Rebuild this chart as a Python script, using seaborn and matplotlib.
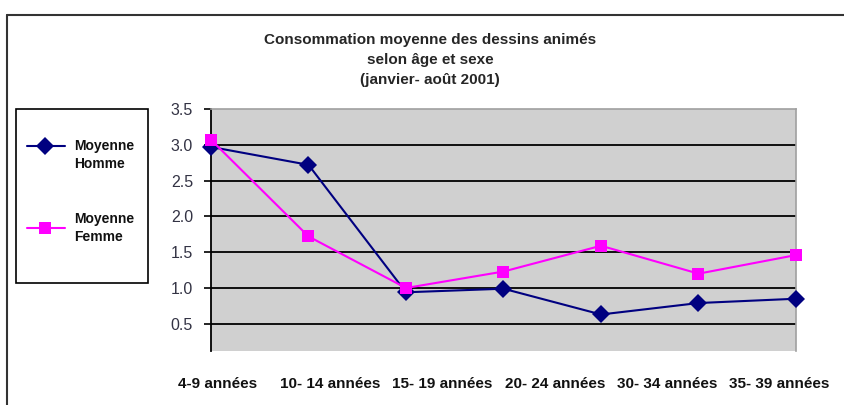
import numpy as np
import pandas as pd
import seaborn as sns
import matplotlib
matplotlib.use("Agg")
import matplotlib.pyplot as plt
from matplotlib.lines import Line2D
from matplotlib.patches import Rectangle

# ---- data ----
age_labels = ["4-9 années", "10- 14 années", "15- 19 années", "20- 24 années",
              "30- 34 années", "35- 39 années"]
point_index = [0, 1, 2, 3, 4, 5, 6]
homme = [2.97, 2.72, 0.94, 0.99, 0.63, 0.79, 0.85]
femme = [3.07, 1.72, 1.00, 1.23, 1.59, 1.20, 1.46]
series_names = ["Moyenne\nHomme", "Moyenne\nFemme"]
y_ticks = [0.5, 1.0, 1.5, 2.0, 2.5, 3.0, 3.5]
title = "Consommation moyenne des dessins animés\nselon âge et sexe\n(janvier- août 2001)"

df = pd.DataFrame({
    "x": point_index * 2,
    "val": homme + femme,
    "serie": [series_names[0]] * len(homme) + [series_names[1]] * len(femme),
})

sns.set_style("white")
plt.rcParams["font.family"] = ["Liberation Sans", "DejaVu Sans"]

W, H = 845, 405
fig = plt.figure(figsize=(8.45, 4.05), dpi=100)
ax = fig.add_axes([211 / W, 1 - 351 / H, (796 - 211) / W, (351 - 109) / H])
ax.set_facecolor("#d0d0d0")

colors = {series_names[0]: "#000080", series_names[1]: "#ff00ff"}
markers = {series_names[0]: "D", series_names[1]: "s"}
sns.lineplot(data=df, x="x", y="val", hue="serie", style="serie",
             palette=colors, markers=markers, dashes=False, markersize=9,
             markeredgewidth=0, linewidth=1.5, ax=ax, legend=False, zorder=3)
for ln in ax.lines:
    ln.set_clip_on(False)

ax.set_xlim(0, 6)
ax.set_ylim(0.12, 3.5)
ax.set_yticks(y_ticks)
ax.set_yticklabels([f"{v:.1f}" for v in y_ticks], fontsize=11.5, color="#333344")
ax.set_xticks(np.linspace(0.072, 5.83, len(age_labels)))
ax.set_xticklabels(age_labels, fontsize=11, fontweight="bold", color="#111111")
ax.tick_params(axis="x", length=0, pad=19)
ax.tick_params(axis="y", left=True, length=5, width=1.2, color="black", pad=8)
ax.set_xlabel("")
ax.set_ylabel("")
for v in y_ticks[:-1]:
    ax.axhline(v, color="black", linewidth=1.3, zorder=1)
for s in ["top", "right"]:
    ax.spines[s].set_color("#a0a0a0")
    ax.spines[s].set_linewidth(1.2)
ax.spines["bottom"].set_visible(False)
ax.spines["left"].set_color("black")
ax.spines["left"].set_linewidth(1.3)

fig.text(430 / W, 1 - 60 / H, title, ha="center", va="center",
         fontsize=11, fontweight="bold", linespacing=1.55)

# outer frame
fig.add_artist(Line2D([7 / W, 1], [1 - 15 / H, 1 - 15 / H], color="#333333", linewidth=1.5))
fig.add_artist(Line2D([7 / W, 7 / W], [0, 1 - 15 / H], color="#333333", linewidth=1.5))

# legend box
fig.add_artist(Rectangle((16 / W, 1 - 283 / H), (148 - 16) / W, (283 - 109) / H,
                         transform=fig.transFigure, fill=False, edgecolor="black", linewidth=1.2))
legend_rows = [(146, 155), (228, 228)]  # marker y, text center y
for name, (my, ty) in zip(series_names, legend_rows):
    fig.add_artist(Line2D([27 / W, 65 / W], [1 - my / H] * 2, color=colors[name], linewidth=1.5))
    fig.add_artist(Line2D([45 / W], [1 - my / H], color=colors[name], marker=markers[name],
                          markersize=9, markeredgewidth=0, linestyle="none"))
    fig.text(74 / W, 1 - ty / H, name, ha="left", va="center", fontsize=10,
             fontweight="bold", color="#111111", linespacing=1.3)

fig.savefig("out.png", dpi=100)
